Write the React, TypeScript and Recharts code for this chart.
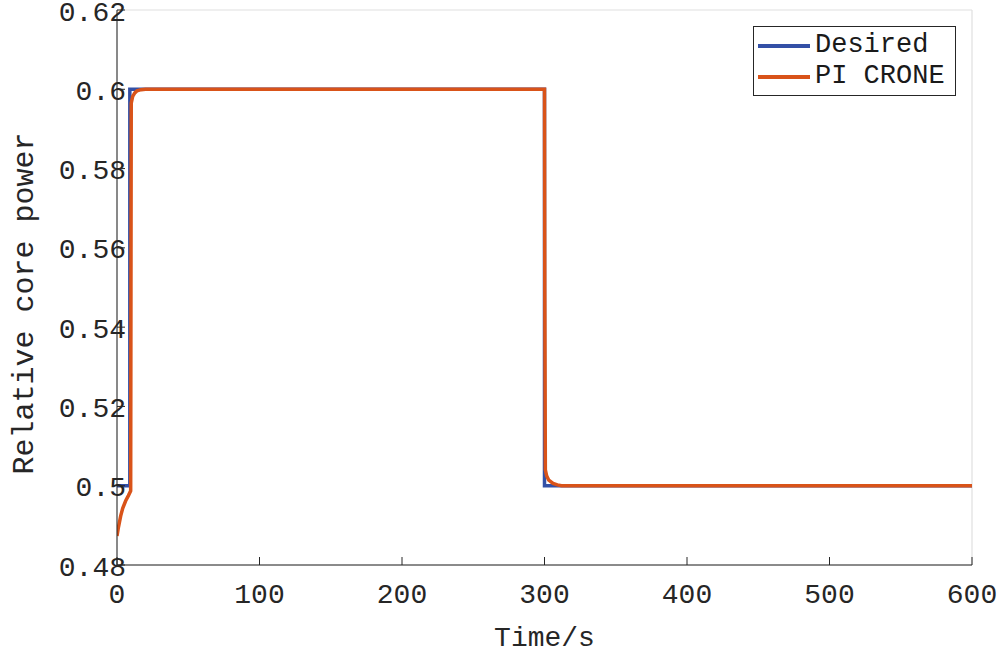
import React from "react";
import { LineChart, Line, XAxis, YAxis, CartesianGrid } from "recharts";

const desiredTimes = [0, 9, 9, 300, 300, 600];
const desiredValues = [0.5, 0.5, 0.6, 0.6, 0.5, 0.5];

const croneTimes = [0, 1, 2.6, 4, 6.1, 8, 9.6, 9.8, 10, 11, 12.5, 14, 17, 20, 25, 300, 300.2, 300.6, 301.5, 303, 306, 309, 312, 600];
const croneValues = [0.4873, 0.4895, 0.4924, 0.4943, 0.4962, 0.4975, 0.4987, 0.55, 0.5965, 0.5982, 0.5991, 0.5996, 0.5999, 0.6, 0.6, 0.6, 0.55, 0.504, 0.5025, 0.5014, 0.5006, 0.5002, 0.5, 0.5];

const xTicks = [0, 100, 200, 300, 400, 500, 600];
const yTicks = [0.48, 0.5, 0.52, 0.54, 0.56, 0.58, 0.6, 0.62];
const yTickLabels = ["0.48", "0.5", "0.52", "0.54", "0.56", "0.58", "0.6", "0.62"];

const seriesNames = ["Desired", "PI CRONE"];
const seriesColors = ["#3350A6", "#D95319"];

const desiredData = desiredTimes.map((t, i) => ({ t, v: desiredValues[i] }));
const croneData = croneTimes.map((t, i) => ({ t, v: croneValues[i] }));

const FONT = "'Liberation Mono', 'DejaVu Sans Mono', monospace";
const AX = "#262626";
const TL = 8;

const LeftTick = (p: any) => {
  const { x, y, payload } = p;
  const idx = yTicks.findIndex((v) => Math.abs(v - payload.value) < 1e-9);
  return (
    <g>
      <line x1={x} x2={x + TL} y1={y} y2={y} stroke={AX} strokeWidth={1} />
      <text x={x + 9} y={y + 3} textAnchor="end" dominantBaseline="central" fontFamily={FONT} fontSize={28} fill="#262626">
        {idx >= 0 ? yTickLabels[idx] : payload.value}
      </text>
    </g>
  );
};

const BottomTick = (p: any) => {
  const { x, y, payload } = p;
  return (
    <g>
      <line x1={x} x2={x} y1={y} y2={y - TL} stroke={AX} strokeWidth={1} />
      <text x={x} y={y + 30} textAnchor="middle" dominantBaseline="central" fontFamily={FONT} fontSize={28} fill="#262626">
        {payload.value}
      </text>
    </g>
  );
};

const RightTick = (p: any) => {
  const { x, y } = p;
  return <line x1={x} x2={x - TL} y1={y} y2={y} stroke={AX} strokeWidth={1} />;
};

const TopTick = (p: any) => {
  const { x, y } = p;
  return <line x1={x} x2={x} y1={y} y2={y + TL} stroke={AX} strokeWidth={1} />;
};

const LegendBox = () => (
  <div
    style={{
      position: "absolute",
      left: 753,
      top: 26,
      border: "1.5px solid #262626",
      background: "#fff",
      width: 203,
      height: 70,
      boxSizing: "border-box",
      padding: "3px 4px",
      fontFamily: FONT,
      fontSize: 27,
      color: "#1a1a1a",
    }}
  >
    {seriesNames.map((n, i) => (
      <div key={n} style={{ display: "flex", alignItems: "center", height: 31 }}>
        <div style={{ width: 52, height: 4, background: seriesColors[i], marginRight: 5 }} />
        <span style={{ lineHeight: "31px", whiteSpace: "nowrap" }}>{n}</span>
      </div>
    ))}
  </div>
);

export default function App() {
  return (
    <div style={{ position: "absolute", left: 0, top: 0, width: 1005, height: 658, background: "#fff" }}>
      <LineChart width={1005} height={658} margin={{ top: 10, right: 33, bottom: 0, left: 0 }}>
        <CartesianGrid stroke="#dfdfdf" strokeWidth={1.2} />
        <XAxis
          xAxisId="b"
          dataKey="t"
          type="number"
          domain={[0, 600]}
          ticks={xTicks}
          height={93}
          axisLine={{ stroke: AX }}
          tickLine={false}
          tickSize={0}
          tickMargin={0}
          tick={<BottomTick />}
          allowDataOverflow
          label={{ value: "Time/s", position: "insideBottom", offset: 12, style: { fontFamily: FONT, fontSize: 28, fill: "#262626" } }}
        />
        <XAxis
          xAxisId="top"
          orientation="top"
          dataKey="t"
          type="number"
          domain={[0, 600]}
          ticks={xTicks}
          height={0}
          axisLine={{ stroke: AX }}
          tickLine={false}
          tickSize={0}
          tickMargin={0}
          tick={<TopTick />}
          allowDataOverflow
        />
        <YAxis
          yAxisId="l"
          type="number"
          domain={[0.48, 0.62]}
          ticks={yTicks}
          width={117}
          axisLine={{ stroke: AX }}
          tickLine={false}
          tickSize={0}
          tickMargin={0}
          tick={<LeftTick />}
          allowDataOverflow
          label={{ value: "Relative core power", angle: -90, position: "insideLeft", offset: 0, dx: 22, dy: 16, style: { fontFamily: FONT, fontSize: 30, fill: "#262626", textAnchor: "middle" } }}
        />
        <YAxis
          yAxisId="r"
          orientation="right"
          type="number"
          domain={[0.48, 0.62]}
          ticks={yTicks}
          width={0}
          axisLine={{ stroke: AX }}
          tickLine={false}
          tickSize={0}
          tickMargin={0}
          tick={<RightTick />}
          allowDataOverflow
        />
        <Line
          xAxisId="b"
          yAxisId="l"
          data={desiredData}
          dataKey="v"
          name={seriesNames[0]}
          type="linear"
          stroke={seriesColors[0]}
          strokeWidth={3.5}
          dot={false}
          isAnimationActive={false}
        />
        <Line
          xAxisId="b"
          yAxisId="l"
          data={croneData}
          dataKey="v"
          name={seriesNames[1]}
          type="linear"
          stroke={seriesColors[1]}
          strokeWidth={3.5}
          dot={false}
          isAnimationActive={false}
        />
      </LineChart>
      <LegendBox />
    </div>
  );
}
